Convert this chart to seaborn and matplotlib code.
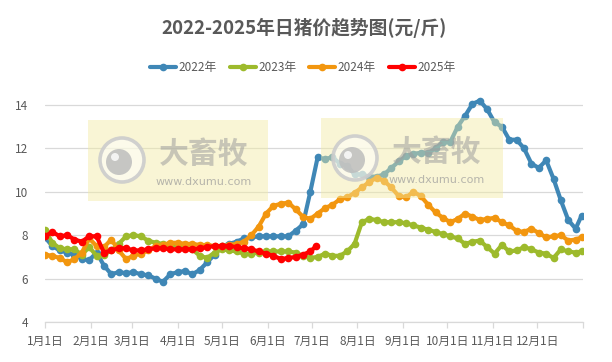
import matplotlib
matplotlib.use("Agg")
import matplotlib.pyplot as plt
import seaborn as sns
import pandas as pd
from matplotlib.patches import Rectangle, Circle

sns.set_theme(style="white")
plt.rcParams['font.family'] = ['Noto Sans CJK SC', 'DejaVu Sans']

# ---- data (day of year, sampled every 5 days) ----
days = [0, 5, 10, 15, 20, 25, 30, 35, 40, 45, 50, 55, 60, 65, 70, 75, 80, 85, 90, 95,
        100, 105, 110, 115, 120, 125, 130, 135, 140, 145, 150, 155, 160, 165, 170, 175,
        180, 185, 190, 195, 200, 205, 210, 215, 220, 225, 230, 235, 240, 245, 250, 255,
        260, 265, 270, 275, 280, 285, 290, 295, 300, 305, 310, 315, 320, 325, 330, 335,
        340, 345, 350, 355, 360, 364]

p2022 = [7.9, 7.5, 7.3, 7.2, 7.1, 6.9, 6.85, 7.2, 6.6, 6.2, 6.3, 6.25, 6.3, 6.2, 6.15, 6.0,
         5.85, 6.2, 6.3, 6.35, 6.2, 6.4, 6.75, 7.1, 7.5, 7.6, 7.7, 7.85, 7.9, 7.95, 7.95, 7.95,
         7.95, 7.95, 8.2, 8.5, 10.0, 11.6, 11.5, 11.6, 11.3, 11.2, 10.8, 10.8, 10.7, 10.7, 10.8,
         11.1, 11.4, 11.65, 11.75, 11.8, 11.8, 12.0, 12.3, 12.3, 13.0, 13.5, 14.05, 14.2, 13.8,
         13.2, 13.0, 12.4, 12.4, 12.0, 11.3, 11.1, 11.45, 10.6, 9.6, 8.7, 8.3, 8.9]

p2023 = [8.25, 7.65, 7.4, 7.35, 7.35, 7.1, 7.45, 7.05, 7.1, 7.3, 7.6, 7.95, 8.0, 7.95, 7.75,
         7.65, 7.6, 7.55, 7.5, 7.45, 7.35, 7.05, 6.95, 7.2, 7.35, 7.3, 7.25, 7.15, 7.15, 7.2,
         7.25, 7.25, 7.25, 7.25, 7.2, 7.05, 6.95, 7.0, 7.15, 7.05, 7.05, 7.25, 7.6, 8.6, 8.75,
         8.7, 8.6, 8.6, 8.6, 8.55, 8.45, 8.35, 8.25, 8.15, 8.05, 7.95, 7.85, 7.6, 7.7, 7.75,
         7.45, 7.15, 7.55, 7.25, 7.3, 7.45, 7.35, 7.2, 7.15, 6.95, 7.35, 7.25, 7.2, 7.25]

p2024 = [7.1, 7.05, 6.95, 6.75, 6.9, 7.2, 7.85, 7.5, 7.45, 7.8, 7.3, 6.9, 7.05, 7.15, 7.3,
         7.5, 7.55, 7.65, 7.65, 7.6, 7.6, 7.55, 7.55, 7.5, 7.5, 7.55, 7.6, 7.7, 8.0, 8.4, 9.0,
         9.35, 9.45, 9.5, 9.2, 8.85, 8.75, 9.0, 9.25, 9.4, 9.65, 9.75, 9.95, 10.2, 10.45, 10.65,
         10.5, 10.2, 9.8, 9.75, 10.0, 9.8, 9.4, 9.05, 8.8, 8.6, 8.75, 9.0, 8.85, 8.7, 8.75, 8.8,
         8.6, 8.45, 8.2, 8.15, 8.3, 8.1, 7.9, 7.95, 8.0, 7.75, 7.8, 7.9]

days2025 = [0, 5, 10, 15, 20, 25, 30, 35, 40, 45, 50, 55, 60, 65, 70, 75, 80, 85, 90, 95,
            100, 105, 110, 115, 120, 125, 130, 135, 140, 145, 150, 155, 160, 165, 170, 175,
            180, 184]
p2025 = [7.95, 8.15, 7.95, 8.0, 7.8, 7.7, 7.95, 7.95, 7.2, 7.3, 7.4, 7.4, 7.3, 7.3, 7.35,
         7.4, 7.4, 7.35, 7.35, 7.35, 7.35, 7.4, 7.45, 7.5, 7.5, 7.5, 7.45, 7.4, 7.35, 7.25,
         7.15, 7.05, 6.9, 6.95, 7.0, 7.1, 7.25, 7.5]

years = ["2022年", "2023年", "2024年", "2025年"]
colors = ["#3F87B6", "#9DBA2C", "#F2960F", "#FF0000"]

month_days = [0, 31, 59, 90, 120, 151, 181, 212, 243, 273, 304, 334]
month_labels = [f"{m}月1日" for m in range(1, 13)]
y_ticks = [4, 6, 8, 10, 12, 14]

# ---- figure ----
W, H = 612, 362
fig = plt.figure(figsize=(W / 100, H / 100), dpi=100)
fig.patch.set_facecolor("white")
ax_left, ax_right = 45 / W, 583 / W
y_lo, y_hi = 4, 14.6
px_per_unit = 21.7
bottom_px = 322
top_px = bottom_px - (y_hi - y_lo) * px_per_unit
ax = fig.add_axes([ax_left, 1 - bottom_px / H, ax_right - ax_left, (bottom_px - top_px) / H])

series = [(days, p2022), (days, p2023), (days, p2024), (days2025, p2025)]
for (d, v), lab, c in zip(series, years, colors):
    df = pd.DataFrame({"day": d, "price": v})
    sns.lineplot(data=df, x="day", y="price", ax=ax, color=c, linewidth=3.4,
                 marker="o", markersize=5.6, markeredgewidth=0, label=lab,
                 zorder=3)

ax.set_xlim(0, 365)
ax.set_ylim(y_lo, y_hi)
ax.set_yticks(y_ticks)
ax.set_yticklabels([str(t) for t in y_ticks])
ax.set_xticks(month_days + [365])
ax.set_xticklabels(month_labels + [""])
ax.set_xlabel("")
ax.set_ylabel("")
ax.grid(axis="y", color="#D9D9D9", linewidth=0.9, zorder=0)
ax.grid(axis="x", visible=False)
for s in ["top", "right", "left"]:
    ax.spines[s].set_visible(False)
ax.spines["bottom"].set_color("#D9D9D9")
ax.spines["bottom"].set_linewidth(0.9)
ax.tick_params(axis="x", colors="#595959", labelsize=8.5, length=4, width=0.9,
               color="#D9D9D9", pad=5, bottom=True)
ax.tick_params(axis="y", colors="#595959", labelsize=8.5, length=0, pad=12)
for t in ax.get_xticklabels() + ax.get_yticklabels():
    t.set_color("#595959")

ax.legend_.remove()
handles, labels = ax.get_legend_handles_labels()
for h in handles:
    h.set_linewidth(3.0)
    h.set_markersize(5.5)
fig.legend(handles, labels, loc="center", bbox_to_anchor=(0.495, 1 - 68 / H), ncol=4,
           frameon=False, fontsize=8.5, handlelength=2.2, handletextpad=0.2,
           columnspacing=1.1, labelcolor="#595959")

fig.text(0.497, 1 - 28 / H, "2022-2025年日猪价趋势图(元/斤)", ha="center", va="center",
         fontsize=13.5, fontweight="bold", color="#595959")

# ---- watermarks ----
def watermark(x0, y0, w, h):
    fig.add_artist(Rectangle((x0 / W, 1 - (y0 + h) / H), w / W, h / H,
                             transform=fig.transFigure, facecolor=(0.95, 0.92, 0.64),
                             alpha=0.45, edgecolor="none", zorder=10))
    cx, cy = x0 + 34, y0 + 40
    fig.add_artist(Circle((cx, H - cy), 22, transform=None, facecolor=(1, 1, 1, 0.5),
                          edgecolor=(0.8, 0.8, 0.8, 0.9), linewidth=2.6, zorder=11))
    fig.add_artist(Circle((cx - 3, H - cy - 2), 13, transform=None,
                          facecolor=(0.74, 0.74, 0.74, 0.85), edgecolor="none", zorder=12))
    fig.add_artist(Circle((cx - 7, H - cy + 3), 4, transform=None,
                          facecolor=(1, 1, 1, 0.8), edgecolor="none", zorder=13))
    fig.text((x0 + 116) / W, 1 - (y0 + 34) / H, "大畜牧", ha="center", va="center",
             fontsize=21.5, fontweight="bold", color=(0.62, 0.62, 0.62), alpha=0.55,
             zorder=12)
    fig.text((x0 + 116) / W, 1 - (y0 + 62) / H, "www.dxumu.com", ha="center", va="center",
             fontsize=8, color=(0.6, 0.6, 0.6), alpha=0.7, zorder=12,
             family=["DejaVu Sans"])

watermark(88, 120, 180, 81)
watermark(321, 118, 182, 80)

fig.savefig("out.png", dpi=100, facecolor="white")
